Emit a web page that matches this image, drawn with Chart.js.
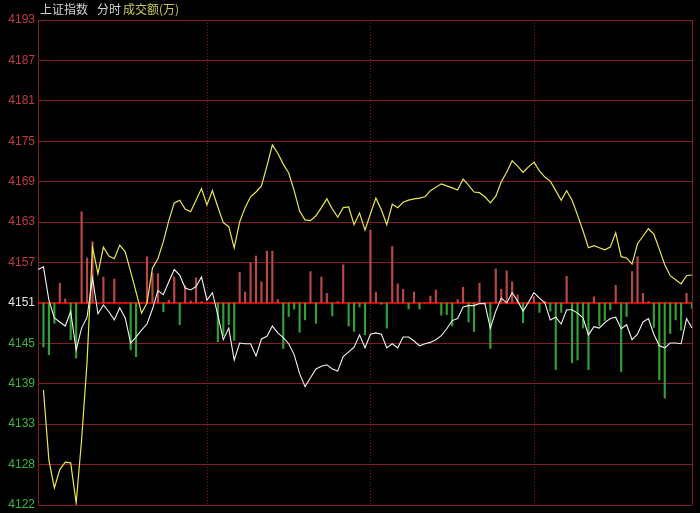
<!DOCTYPE html>
<html>
<head>
<meta charset="utf-8">
<script src="https://cdn.jsdelivr.net/npm/chart.js@4.4.0/dist/chart.umd.min.js"></script>
<style>
  html, body { margin: 0; padding: 0; background: #000; }
  #wrap { position: relative; width: 700px; height: 513px; }
  #wrap canvas { position: absolute; left: 0; top: 0; }
  .ttl { position: absolute; top: 2px; font: 12px "Noto Sans CJK SC", sans-serif; line-height: 14px; color: #d4d4d4; white-space: nowrap; z-index: 2; }
</style>
</head>
<body>
<div id="wrap">
  <canvas id="c" width="700" height="513"></canvas>
  <span class="ttl" style="left:40px">上证指数</span>
  <span class="ttl" style="left:97px">分时</span>
  <span class="ttl" style="left:123px;color:#c8c85a">成交额(万)</span>
</div>
<script>
// reference level (previous close) and spacing of the price grid
const prevClose = 4151.3;
const gridStep = 5.94;

// y tick labels, bottom to top
const tickLabels = ['4122', '4128', '4133', '4139', '4145', '4151', '4157',
                    '4163', '4169', '4175', '4181', '4187', '4193'];

// index price (white)
const priceLine = [
  4156.2, 4156.6, 4151.7, 4149.1, 4148.5, 4147.9, 4150.0, 4144.4, 4147.6, 4149.2,
  4155.0, 4149.7, 4151.0, 4150.0, 4148.8, 4150.6, 4149.1, 4145.4, 4146.3, 4147.3,
  4148.2, 4150.4, 4153.1, 4152.5, 4154.4, 4156.2, 4155.4, 4153.5, 4153.2, 4153.7,
  4155.1, 4151.7, 4152.8, 4149.5, 4145.9, 4147.6, 4142.9, 4145.4, 4145.3, 4145.3,
  4143.5, 4146.0, 4146.4, 4147.9, 4146.9, 4146.2, 4145.3, 4143.7, 4140.9, 4139.0,
  4140.3, 4141.6, 4142.0, 4142.2, 4141.6, 4141.3, 4143.4, 4144.1, 4144.8, 4146.6,
  4144.7, 4146.7, 4146.9, 4146.7, 4144.7, 4145.3, 4144.7, 4146.3, 4146.3, 4145.7,
  4145.0, 4145.3, 4145.5, 4145.9, 4146.5, 4147.5, 4148.7, 4149.0, 4150.7, 4150.9,
  4150.9, 4151.2, 4151.2, 4147.6, 4150.1, 4152.0, 4151.3, 4152.8, 4151.6, 4150.1,
  4151.4, 4152.8, 4152.0, 4151.3, 4148.8, 4149.2, 4148.2, 4150.3, 4150.3, 4149.8,
  4149.1, 4146.6, 4147.8, 4147.6, 4148.4, 4149.0, 4149.2, 4147.5, 4148.1, 4145.9,
  4146.7, 4148.5, 4149.0, 4146.7, 4145.0, 4144.7, 4145.4, 4145.4, 4145.3, 4149.0,
  4147.6
];

// second line (yellow)
const avgLine = [
  null,   4138.5, 4128.2, 4124.1, 4126.8, 4127.9, 4127.8, 4121.9, 4131.2, 4142.6,
  4159.5, 4155.6, 4159.5, 4158.2, 4157.8, 4159.8, 4158.8, 4155.9, 4152.9, 4149.8,
  4151.3, 4156.4, 4157.8, 4160.3, 4163.4, 4166.0, 4166.4, 4165.1, 4164.7, 4166.4,
  4168.1, 4165.7, 4167.8, 4165.4, 4163.1, 4162.5, 4159.4, 4163.2, 4165.3, 4166.9,
  4167.6, 4168.5, 4171.4, 4174.5, 4173.3, 4171.7, 4170.4, 4167.8, 4164.8, 4163.5,
  4163.4, 4164.1, 4165.3, 4166.6, 4165.1, 4163.9, 4165.3, 4165.4, 4162.8, 4164.5,
  4162.0, 4164.4, 4166.7, 4165.0, 4162.8, 4165.8, 4165.3, 4166.1, 4166.4, 4166.6,
  4166.7, 4166.9, 4167.8, 4168.3, 4168.8, 4168.5, 4168.2, 4167.9, 4169.5, 4168.6,
  4167.6, 4167.5, 4166.9, 4166.0, 4167.0, 4169.1, 4170.5, 4172.2, 4171.4, 4170.5,
  4171.3, 4172.0, 4170.7, 4169.8, 4169.2, 4167.8, 4166.4, 4167.8, 4166.4, 4164.2,
  4161.9, 4159.4, 4159.7, 4159.4, 4159.1, 4159.5, 4161.6, 4158.1, 4157.9, 4157.0,
  4160.0, 4161.1, 4162.2, 4161.4, 4159.2, 4156.9, 4155.3, 4154.7, 4154.1, 4155.3,
  4155.4
];

// red / green bars, measured from the previous close line
const flowBars = [
   0,   -6.5, -7.6, -3.0,  2.9,  0.6, -5.4, -8.1, 13.4,  6.6,
   9.0,  0,    3.8,  0,    3.5,  0,    0,   -6.9, -7.9,  0,
   6.8,  4.4,  4.3, -1.3,  0.4,  3.8, -3.2,  2.5,  0.3,  3.7,
   0.2,  0,    0,   -5.7, -4.8, -3.2, -5.5,  4.5,  1.6,  5.9,
   6.9,  3.1,  7.6,  7.6,  0.5, -6.7, -2.0, -0.9, -4.3, -2.5,
   4.6, -3.0,  3.8,  1.4, -1.9,  0.2,  5.6, -3.4, -4.2, -0.6,
  -4.7, 10.7,  1.6, -0.2, -3.7,  8.3,  2.8,  2.0, -0.9,  1.6,
  -0.9,  0,    1.0,  1.9, -1.8, -1.7, -3.4,  0.5,  2.3, -2.8,
  -4.2,  2.9,  0,   -6.7,  5.0,  2.0,  4.7,  3.1,  1.2, -2.9,
   0,    0.9, -1.4,  0.2, -1.2, -9.8, -1.4,  3.9, -8.8, -8.4,
  -3.7, -9.8,  0.9, -3.4, -2.6, -1.0,  2.6,-10.1, -2.0,  4.6,
   6.8,  1.4,  0.2, -3.6,-11.3,-14.0, -4.5, -2.5, -4.0,  1.4,
  -0.8
];

// hour separators (dotted verticals)
const hourMarks = [31, 61, 91];

const slots = priceLine.map((_, i) => i);

const gridRed = '#861d1d';

const framePlugin = {
  id: 'frame',
  beforeDatasetsDraw(chart) {
    const { ctx, chartArea: a, scales } = chart;
    ctx.save();
    ctx.strokeStyle = gridRed;
    ctx.lineWidth = 1;
    ctx.setLineDash([1, 2]);
    hourMarks.forEach(m => {
      const x = Math.round(scales.x.getPixelForValue(m)) + 0.5;
      ctx.beginPath(); ctx.moveTo(x, a.top); ctx.lineTo(x, a.bottom); ctx.stroke();
    });
    ctx.setLineDash([]);
    ctx.beginPath();
    ctx.moveTo(a.right + 0.5, a.top); ctx.lineTo(a.right + 0.5, a.bottom);
    ctx.stroke();
    const y0 = scales.y.getPixelForValue(prevClose);
    ctx.strokeStyle = '#d40000';
    ctx.lineWidth = 2;
    ctx.beginPath(); ctx.moveTo(a.left, y0); ctx.lineTo(a.right, y0); ctx.stroke();
    ctx.restore();
  }
};

new Chart(document.getElementById('c'), {
  data: {
    labels: slots,
    datasets: [
      {
        type: 'line',
        data: priceLine,
        borderColor: '#f2f2f2',
        borderWidth: 1.1,
        pointRadius: 0,
        order: 0
      },
      {
        type: 'line',
        data: avgLine,
        borderColor: '#e8e84e',
        borderWidth: 1.2,
        pointRadius: 0,
        order: 1
      },
      {
        type: 'bar',
        yAxisID: 'yBar',
        data: flowBars,
        backgroundColor: flowBars.map(v => v >= 0 ? '#b84848' : '#32a032'),
        barThickness: 1.5,
        order: 2
      }
    ]
  },
  plugins: [framePlugin],
  options: {
    responsive: false,
    animation: false,
    layout: { padding: { top: 20, right: 8, bottom: 8, left: 0 } },
    plugins: { legend: { display: false }, tooltip: { enabled: false } },
    scales: {
      x: {
        type: 'category',
        offset: false,
        display: false
      },
      y: {
        min: prevClose - 5 * gridStep,
        max: prevClose + 7 * gridStep,
        afterBuildTicks: s => {
          s.ticks = tickLabels.map((_, i) => ({ value: prevClose + (i - 5) * gridStep }));
        },
        afterFit: s => {
          s.width = 38;
          s.paddingTop = 0;
          s.paddingBottom = 0;
        },
        ticks: {
          autoSkip: false,
          padding: 3,
          font: { family: 'Liberation Sans', size: 12 },
          color: c => c.index > 5 ? '#c03c3c' : (c.index === 5 ? '#e6e6e6' : '#3cb43c'),
          callback: (v, i) => tickLabels[i]
        },
        grid: {
          drawTicks: false,
          color: c => c.index === 5 ? 'rgba(0,0,0,0)' : gridRed
        },
        border: { color: gridRed }
      },
      yBar: {
        display: false,
        min: -5 * gridStep,
        max: 7 * gridStep
      }
    }
  }
});
</script>
</body>
</html>
